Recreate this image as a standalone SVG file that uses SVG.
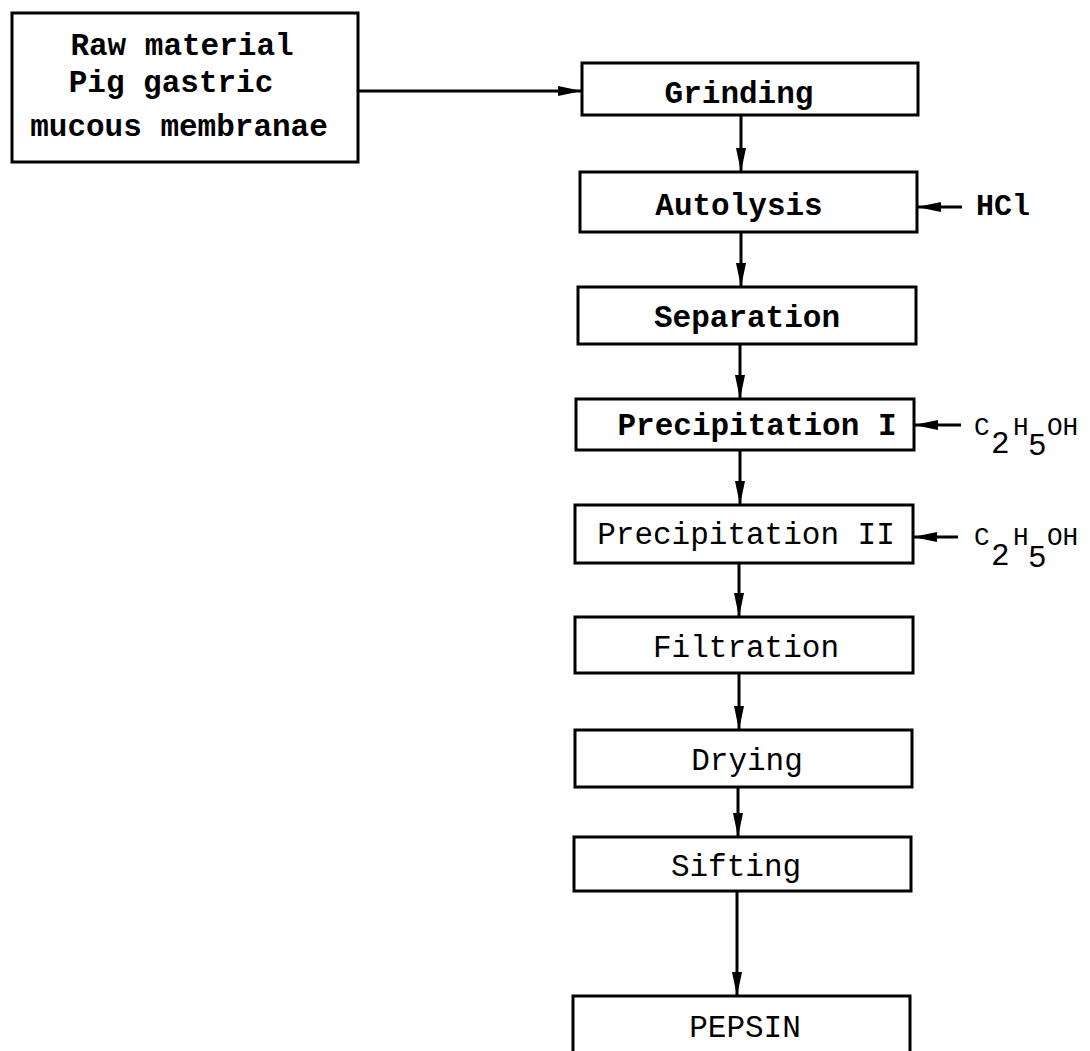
<svg xmlns="http://www.w3.org/2000/svg" width="1090" height="1051" viewBox="0 0 1090 1051">
  <defs>
    <style>
      .box { fill: #fff; stroke: #000; stroke-width: 3; }
      .lbl { font-family: "Liberation Mono", "Courier New", monospace; font-size: 31px; fill: #000; text-anchor: middle; }
      .b { font-weight: bold; }
      .side { font-family: "Liberation Mono", "Courier New", monospace; fill: #000; }
      .chem { font-size: 26px; }
      .sub { font-size: 31px; }
      .conn line { stroke: #000; stroke-width: 3; fill: none; }
    </style>
    <marker id="head" markerUnits="userSpaceOnUse" markerWidth="26" markerHeight="12" refX="24" refY="5" orient="auto">
      <path d="M0,0 L24,5 L0,10 Z" fill="#000"/>
    </marker>
  </defs>
  <rect width="1090" height="1051" fill="#fff"/>

  <!-- connectors -->
  <g id="connectors" class="conn">
    <line x1="358" y1="91" x2="582" y2="91" marker-end="url(#head)"/>
    <line x1="741" y1="115" x2="741" y2="172" marker-end="url(#head)"/>
    <line x1="741" y1="232" x2="741" y2="287" marker-end="url(#head)"/>
    <line x1="740" y1="344" x2="740" y2="399" marker-end="url(#head)"/>
    <line x1="740" y1="450" x2="740" y2="505" marker-end="url(#head)"/>
    <line x1="739" y1="563" x2="739" y2="617" marker-end="url(#head)"/>
    <line x1="739" y1="673" x2="739" y2="730" marker-end="url(#head)"/>
    <line x1="738" y1="787" x2="738" y2="837" marker-end="url(#head)"/>
    <line x1="737" y1="891" x2="737" y2="996" marker-end="url(#head)"/>
    <line x1="962" y1="207" x2="917" y2="207" marker-end="url(#head)"/>
    <line x1="961" y1="425" x2="914" y2="425" marker-end="url(#head)"/>
    <line x1="958" y1="537" x2="913" y2="537" marker-end="url(#head)"/>
  </g>

  <!-- raw material -->
  <g id="raw-material">
    <rect class="box" x="12" y="13" width="346" height="149"/>
    <text class="lbl b" x="182" y="55">Raw material</text>
    <text class="lbl b" x="171" y="92">Pig gastric</text>
    <text class="lbl b" x="179" y="136">mucous membranae</text>
  </g>

  <g id="grinding">
    <rect class="box" x="582" y="63" width="336" height="52"/>
    <text class="lbl b" x="739" y="103">Grinding</text>
  </g>

  <g id="autolysis">
    <rect class="box" x="580" y="172" width="337" height="60"/>
    <text class="lbl b" x="739" y="215">Autolysis</text>
  </g>

  <g id="hcl">
    <text class="side b" x="976" y="215" font-size="30">HCl</text>
  </g>

  <g id="separation">
    <rect class="box" x="578" y="287" width="338" height="57"/>
    <text class="lbl b" x="747" y="327">Separation</text>
  </g>

  <g id="precipitation-1">
    <rect class="box" x="576" y="399" width="338" height="51"/>
    <text class="lbl b" x="757" y="435">Precipitation I</text>
  </g>

  <g id="ethanol-1">
    <text class="side chem" x="974" y="435">C<tspan class="sub" x="991" y="453">2</tspan><tspan x="1013" y="435">H</tspan><tspan class="sub" x="1028" y="455">5</tspan><tspan x="1047" y="435">OH</tspan></text>
  </g>

  <g id="precipitation-2">
    <rect class="box" x="575" y="505" width="338" height="58"/>
    <text class="lbl" x="746" y="544">Precipitation II</text>
  </g>

  <g id="ethanol-2">
    <text class="side chem" x="974" y="545">C<tspan class="sub" x="991" y="565">2</tspan><tspan x="1013" y="545">H</tspan><tspan class="sub" x="1028" y="567">5</tspan><tspan x="1047" y="545">OH</tspan></text>
  </g>

  <g id="filtration">
    <rect class="box" x="575" y="617" width="338" height="56"/>
    <text class="lbl" x="746" y="657">Filtration</text>
  </g>

  <g id="drying">
    <rect class="box" x="575" y="730" width="337" height="57"/>
    <text class="lbl" x="747" y="770">Drying</text>
  </g>

  <g id="sifting">
    <rect class="box" x="574" y="837" width="337" height="54"/>
    <text class="lbl" x="736" y="876">Sifting</text>
  </g>

  <g id="pepsin">
    <rect class="box" x="573" y="996" width="337" height="70"/>
    <text class="lbl" x="745" y="1037">PEPSIN</text>
  </g>
</svg>
